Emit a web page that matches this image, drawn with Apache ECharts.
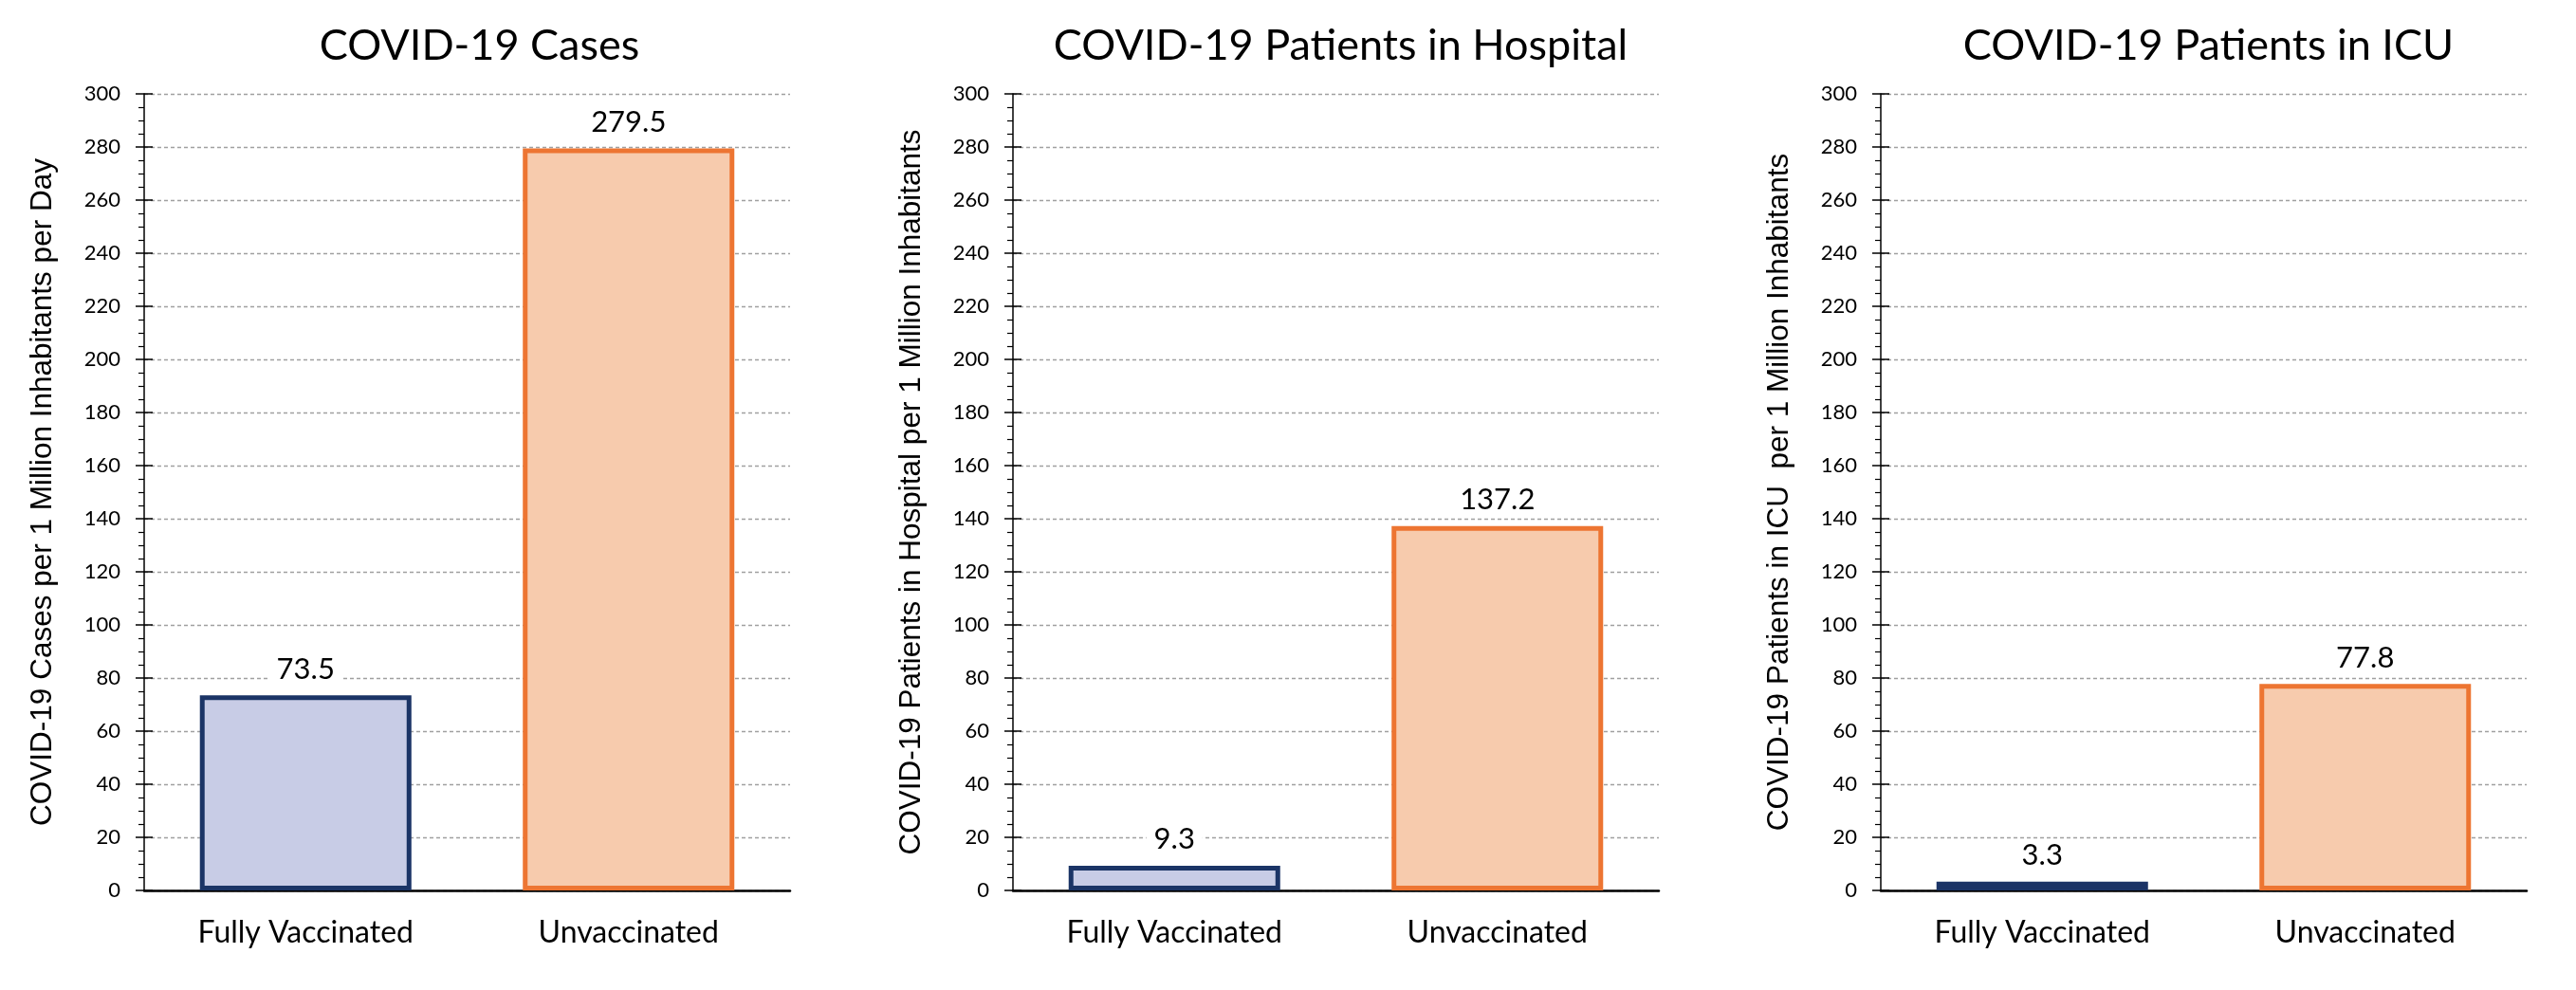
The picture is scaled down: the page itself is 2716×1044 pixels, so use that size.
<!DOCTYPE html>
<html>
<head>
<meta charset="utf-8">
<script src="https://cdn.jsdelivr.net/npm/echarts@6/dist/echarts.min.js"></script>
<style>
html,body{margin:0;padding:0;background:#fff;}
#main{width:2716px;height:1044px;}
</style>
</head>
<body>
<div id="main"></div>
<script>
// ---- data ----
const categories = ['Fully Vaccinated', 'Unvaccinated'];
const casesValues = [73.5, 279.5];
const hospitalValues = [9.3, 137.2];
const icuValues = [3.3, 77.8];
const chartTitles = ['COVID-19 Cases', 'COVID-19 Patients in Hospital', 'COVID-19 Patients in ICU'];
const yAxisNames = [
  'COVID-19 Cases per 1 Million Inhabitants per Day',
  'COVID-19 Patients in Hospital per 1 Million Inhabitants',
  'COVID-19 Patients in ICU  per 1 Million Inhabitants'
];
const yMin = 0, yMax = 300, yStep = 20;

// ---- styling ----
const fills = ['#C8CCE6', '#F7CBAD'];
const borders = ['#1B3466', '#ED7532'];
const lefts = [152, 1068, 1983];
const plotW = 681, plotTop = 99, plotH = 840;
const catFont = 'Lato, "Open Sans", sans-serif';
const nameFont = '"Liberation Sans", Arial, sans-serif';

const seriesData = [casesValues, hospitalValues, icuValues];

const option = {
  backgroundColor: '#fff',
  animation: false,
  title: chartTitles.map((t, i) => ({
    text: t,
    left: lefts[i] + plotW / 2 + (i === 0 ? 8 : 0),
    top: 21,
    textAlign: 'center',
    textStyle: {fontFamily: catFont, fontSize: 45, fontWeight: 'normal', color: '#000'}
  })),
  grid: lefts.map(l => ({left: l, top: plotTop, width: plotW, height: plotH, containLabel: false})),
  xAxis: lefts.map((l, i) => ({
    type: 'category',
    gridIndex: i,
    data: categories,
    axisLine: {show: true, lineStyle: {color: '#000', width: 2.5}},
    axisTick: {show: false},
    axisLabel: {margin: 29, fontFamily: catFont, fontSize: 32, color: '#000'},
    splitLine: {show: false}
  })),
  yAxis: [].concat(
    lefts.map((l, i) => ({
      type: 'value',
      gridIndex: i,
      min: yMin, max: yMax, interval: yStep,
      name: yAxisNames[i],
      nameLocation: 'middle',
      nameGap: 91,
      nameTextStyle: {fontFamily: nameFont, fontSize: 31.5, color: '#000'},
      axisLine: {show: true, lineStyle: {color: '#000', width: 1.5}},
      axisTick: {show: true, length: 9, lineStyle: {color: '#000', width: 1.5}},
      minorTick: {show: true, splitNumber: 4, length: 6, lineStyle: {color: '#000', width: 1.2}},
      axisLabel: {margin: 25, fontFamily: catFont, fontSize: 22, color: '#000'},
      splitLine: {show: true, lineStyle: {color: '#A0A0A0', width: 1.3, type: [4, 3]}}
    })),
    lefts.map((l, i) => ({
      type: 'value',
      gridIndex: i,
      min: yMin, max: yMax, interval: yStep,
      position: 'left',
      axisLine: {show: false},
      axisTick: {show: true, inside: true, length: 9, lineStyle: {color: '#000', width: 1.5}},
      axisLabel: {show: false},
      splitLine: {show: false}
    }))
  ),
  series: seriesData.map((vals, i) => ({
    type: 'bar',
    xAxisIndex: i,
    yAxisIndex: i,
    barWidth: '65.5%',
    data: vals.map((v, j) => ({
      value: v,
      itemStyle: {color: fills[j], borderColor: borders[j], borderWidth: 5}
    })),
    label: {
      show: true,
      position: 'top',
      distance: 12,
      fontFamily: catFont,
      fontSize: 31,
      lineHeight: 31,
      color: '#000',
      backgroundColor: '#fff',
      padding: [0, 8],
      formatter: p => p.value.toFixed(1)
    }
  }))
};

const chart = echarts.init(document.getElementById('main'), null, {renderer: 'canvas'});
chart.setOption(option);
</script>
</body>
</html>
